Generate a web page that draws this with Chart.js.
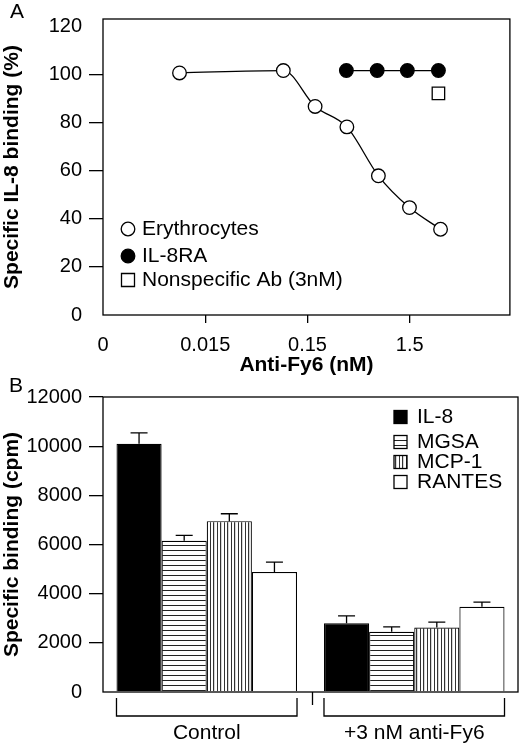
<!DOCTYPE html>
<html>
<head>
<meta charset="utf-8">
<script src="https://cdn.jsdelivr.net/npm/chart.js@4.4.1/dist/chart.umd.min.js"></script>
<style>
  html, body { margin: 0; padding: 0; background: #fff; }
  #wrap { position: relative; width: 520px; height: 743px; }
  .panel { position: absolute; left: 0; width: 520px; }
  #panelA { top: 0; height: 385px; }
  #panelB { top: 375px; height: 368px; }
</style>
</head>
<body>
<div id="wrap">
  <div class="panel" id="panelA"><canvas id="chartA"></canvas></div>
  <div class="panel" id="panelB"><canvas id="chartB"></canvas></div>
</div>
<script>
// ---- panel A data ----
const doseTickValues = [0.0015, 0.015, 0.15, 1.5];
const doseTickLabels = ["0", "0.015", "0.15", "1.5"];
const bindingTicks = [0, 20, 40, 60, 80, 100, 120];
const eryDose = [0.0084, 0.087, 0.178, 0.364, 0.74, 1.49, 3.0];
const eryBinding = [100.5, 101.5, 86.6, 78.1, 57.8, 44.6, 35.6];
const il8raDose = [0.36, 0.72, 1.42, 2.86];
const il8raBinding = [101.5, 101.5, 101.5, 101.5];
const nonspecDose = [2.86];
const nonspecBinding = [92];

// ---- panel B data ----
const groups = ["Control", "+3 nM anti-Fy6"];
const chemokines = ["IL-8", "MGSA", "MCP-1", "RANTES"];
const il8Cpm = [10100, 2800];
const mgsaCpm = [6150, 2450];
const mcp1Cpm = [6950, 2620];
const rantesCpm = [4880, 3470];
const il8Err = [440, 300];
const mgsaErr = [220, 200];
const mcp1Err = [300, 220];
const rantesErr = [400, 190];
const cpmTicks = [0, 2000, 4000, 6000, 8000, 10000, 12000];

const FONT = "'Liberation Sans', Arial, Helvetica, sans-serif";
Chart.defaults.font.family = FONT;
Chart.defaults.color = "#000";

function xy(xs, ys) {
  return xs.map((x, i) => ({ x: x, y: ys[i] }));
}

// stripe fills
function stripes(horizontal) {
  const c = document.createElement("canvas");
  const g = c.getContext("2d");
  if (horizontal) {
    c.width = 4; c.height = 5;
    g.fillStyle = "#fff"; g.fillRect(0, 0, 4, 5);
    g.fillStyle = "#222"; g.fillRect(0, 0, 4, 1);
  } else {
    c.width = 7; c.height = 4;
    g.fillStyle = "#fff"; g.fillRect(0, 0, 7, 4);
    g.fillStyle = "#333"; g.fillRect(0, 0, 1, 4); g.fillRect(3, 0, 1.2, 4);
  }
  return g.createPattern(c, "repeat");
}

const boxPlugin = {
  id: "box",
  afterDraw(chart, args, opts) {
    const { ctx, chartArea: a } = chart;
    ctx.save();
    ctx.strokeStyle = "#000";
    ctx.lineWidth = 1.3;
    ctx.strokeRect(a.left, a.top, a.right - a.left, a.bottom - a.top);
    ctx.font = "21px " + FONT;
    ctx.fillStyle = "#000";
    ctx.textAlign = "center";
    ctx.textBaseline = "middle";
    ctx.fillText(opts.letter, opts.lx, opts.ly);
    ctx.restore();
  }
};

/* ========================
   PANEL A
   ======================== */
const legendA = {
  id: "legendA",
  afterDraw(chart) {
    const { ctx, chartArea: a } = chart;
    const rows = [-86, -59, -35];
    ctx.save();
    ctx.font = "21px " + FONT;
    ctx.textBaseline = "middle";
    ctx.lineWidth = 1.3;
    ctx.strokeStyle = "#000";
    chart.data.datasets.forEach((ds, i) => {
      const y = a.bottom + rows[i];
      const x = a.left + 25;
      ctx.beginPath();
      if (ds.pointStyle === "rect") {
        ctx.rect(x - 6.5, y - 6.5, 13, 13);
      } else {
        ctx.arc(x, y, 6.8, 0, Math.PI * 2);
      }
      ctx.fillStyle = ds.pointBackgroundColor;
      ctx.fill();
      ctx.stroke();
      ctx.fillStyle = "#000";
      ctx.fillText(ds.label, a.left + 39, y);
    });
    ctx.restore();
  }
};

new Chart(document.getElementById("chartA"), {
  type: "scatter",
  data: {
    datasets: [
      {
        label: "Erythrocytes",
        data: xy(eryDose, eryBinding),
        showLine: true,
        cubicInterpolationMode: "monotone",
        borderColor: "#000",
        borderWidth: 1.3,
        pointRadius: 6.8,
        pointBackgroundColor: "#fff",
        pointBorderColor: "#000",
        pointBorderWidth: 1.3
      },
      {
        label: "IL-8RA",
        data: xy(il8raDose, il8raBinding),
        showLine: true,
        borderColor: "#000",
        borderWidth: 1.3,
        pointRadius: 6.8,
        pointBackgroundColor: "#000",
        pointBorderColor: "#000",
        pointBorderWidth: 1.3
      },
      {
        label: "Nonspecific Ab (3nM)",
        data: xy(nonspecDose, nonspecBinding),
        pointStyle: "rect",
        pointRadius: 8.8,
        pointBackgroundColor: "#fff",
        pointBorderColor: "#000",
        pointBorderWidth: 1.3
      }
    ]
  },
  options: {
    responsive: true,
    maintainAspectRatio: false,
    animation: false,
    layout: { padding: { top: 15, right: 2, bottom: 7, left: 0 } },
    plugins: {
      legend: { display: false },
      tooltip: { enabled: false },
      box: { letter: "A", lx: 17, ly: 12 }
    },
    scales: {
      x: {
        type: "logarithmic",
        min: 0.0015,
        max: 14.3,
        afterBuildTicks: s => { s.ticks = doseTickValues.map(v => ({ value: v })); },
        afterFit: s => { s.height = 63; },
        border: { display: false },
        grid: {
          drawOnChartArea: false,
          tickLength: 8,
          lineWidth: 1.3,
          tickColor: c => (c.index === 0 ? "rgba(0,0,0,0)" : "#000")
        },
        ticks: {
          autoSkip: false,
          maxRotation: 0,
          padding: 10,
          font: { size: 20 },
          callback: (v, i) => doseTickLabels[i]
        },
        title: {
          display: true,
          text: "Anti-Fy6 (nM)",
          font: { size: 21, weight: "bold" },
          padding: { top: 0, bottom: 0 }
        }
      },
      y: {
        min: 0,
        max: 122.9,
        afterBuildTicks: s => { s.ticks = bindingTicks.map(v => ({ value: v })); },
        afterFit: s => { s.width = 103; },
        border: { display: false },
        grid: {
          drawOnChartArea: false,
          tickLength: 14,
          lineWidth: 1.3,
          tickColor: c => (c.tick && (c.tick.value === 0 || c.tick.value === 120) ? "rgba(0,0,0,0)" : "#000")
        },
        ticks: { padding: 7, font: { size: 20 } },
        title: {
          display: true,
          text: "Specific IL-8 binding (%)",
          font: { size: 21, weight: "bold" },
          padding: 0
        }
      }
    }
  },
  plugins: [boxPlugin, legendA]
});

/* ========================
   PANEL B
   ======================== */
const errorBars = {
  id: "errorBars",
  afterDatasetsDraw(chart) {
    const { ctx } = chart;
    const yScale = chart.scales.y;
    ctx.save();
    ctx.strokeStyle = "#000";
    ctx.lineWidth = 1.3;
    chart.data.datasets.forEach((ds, i) => {
      chart.getDatasetMeta(i).data.forEach((bar, j) => {
        const top = yScale.getPixelForValue(ds.data[j] + ds.errors[j]);
        ctx.beginPath();
        ctx.moveTo(bar.x, bar.y);
        ctx.lineTo(bar.x, top);
        ctx.moveTo(bar.x - 8.5, top);
        ctx.lineTo(bar.x + 8.5, top);
        ctx.stroke();
      });
    });
    ctx.restore();
  }
};

const brackets = {
  id: "brackets",
  afterDraw(chart) {
    const { ctx, chartArea: a } = chart;
    const first = chart.getDatasetMeta(0).data;
    const last = chart.getDatasetMeta(chart.data.datasets.length - 1).data;
    ctx.save();
    ctx.strokeStyle = "#000";
    ctx.lineWidth = 1.3;
    groups.forEach((g, j) => {
      const l = first[j].x - first[j].width / 2;
      const r = last[j].x + last[j].width / 2;
      ctx.beginPath();
      ctx.moveTo(l, a.bottom + 6);
      ctx.lineTo(l, a.bottom + 24);
      ctx.lineTo(r, a.bottom + 24);
      ctx.lineTo(r, a.bottom + 6);
      ctx.stroke();
    });
    const xs = chart.scales.x;
    const mid = (xs.getPixelForValue(0) + xs.getPixelForValue(1)) / 2 + 2;
    ctx.beginPath();
    ctx.moveTo(mid, a.bottom);
    ctx.lineTo(mid, a.bottom + 13);
    ctx.stroke();

    // legend
    const rows = [20, 45, 65, 85];
    ctx.font = "21px " + FONT;
    ctx.textBaseline = "middle";
    chart.data.datasets.forEach((ds, i) => {
      const y = a.top + rows[i];
      ctx.fillStyle = ds.backgroundColor;
      ctx.fillRect(a.right - 124, y - 6.5, 13, 13);
      ctx.strokeRect(a.right - 124, y - 6.5, 13, 13);
      ctx.fillStyle = "#000";
      ctx.fillText(ds.label, a.right - 101, y);
    });
    ctx.restore();
  }
};

const ctxB = document.getElementById("chartB").getContext("2d");
const fills = ["#000", stripes(true), stripes(false), "#fff"];
const cpmValues = [il8Cpm, mgsaCpm, mcp1Cpm, rantesCpm];
const cpmErrors = [il8Err, mgsaErr, mcp1Err, rantesErr];

new Chart(ctxB, {
  type: "bar",
  data: {
    labels: groups,
    datasets: chemokines.map((name, i) => ({
      label: name,
      data: cpmValues[i],
      errors: cpmErrors[i],
      backgroundColor: fills[i],
      borderColor: "#000",
      borderWidth: 1.2,
      categoryPercentage: 0.87,
      barPercentage: 1.0
    }))
  },
  options: {
    responsive: true,
    maintainAspectRatio: false,
    animation: false,
    layout: { padding: { top: 22, right: 2, bottom: 0, left: 0 } },
    plugins: {
      legend: { display: false },
      tooltip: { enabled: false },
      box: { letter: "B", lx: 16, ly: 11 }
    },
    scales: {
      x: {
        afterFit: s => { s.height = 51; },
        border: { display: false },
        grid: { display: false, drawTicks: false },
        ticks: { padding: 29, font: { size: 21 } }
      },
      y: {
        min: 0,
        max: 12000,
        afterBuildTicks: s => { s.ticks = cpmTicks.map(v => ({ value: v })); },
        afterFit: s => { s.width = 103; },
        border: { display: false },
        grid: {
          drawOnChartArea: false,
          tickLength: 14,
          lineWidth: 1.3,
          tickColor: c => (c.tick && c.tick.value === 0 ? "rgba(0,0,0,0)" : "#000")
        },
        ticks: { padding: 7, font: { size: 20 }, callback: v => String(v) },
        title: {
          display: true,
          text: "Specific binding (cpm)",
          font: { size: 21, weight: "bold" },
          padding: 0
        }
      }
    }
  },
  plugins: [boxPlugin, errorBars, brackets]
});
</script>
</body>
</html>
